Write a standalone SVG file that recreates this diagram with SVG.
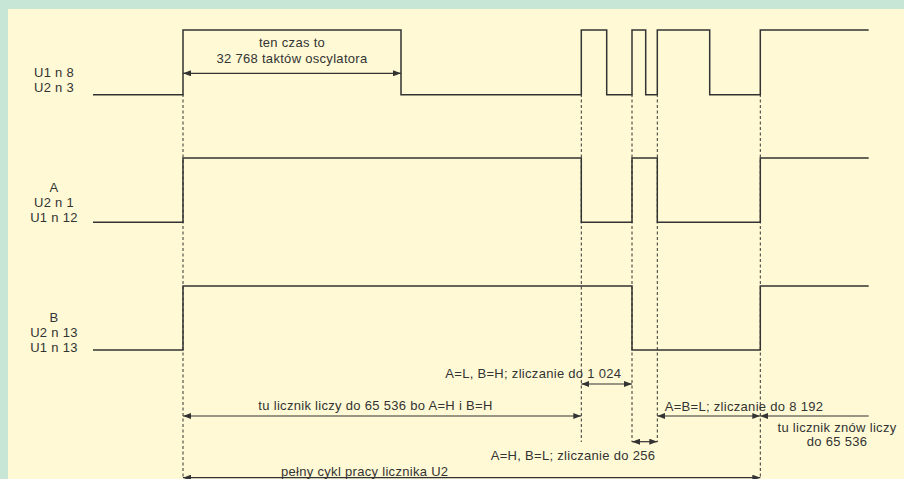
<svg xmlns="http://www.w3.org/2000/svg" width="904" height="479" viewBox="0 0 904 479">
<defs>
<style>
.t{font-family:"Liberation Sans",Arial,sans-serif;font-size:13px;letter-spacing:0.3px;fill:#333;text-anchor:middle}
.w{fill:none;stroke:#333;stroke-width:1.5}
.d{fill:none;stroke:#333;stroke-width:1;stroke-dasharray:3 2.5}
.a{fill:none;stroke:#333;stroke-width:1.2}
</style>
<marker id="ah" viewBox="0 0 8 6" refX="8" refY="3" markerWidth="8" markerHeight="6" markerUnits="userSpaceOnUse" orient="auto-start-reverse">
<path d="M0,0 L8,3 L0,6 Z" fill="#333"/>
</marker>
</defs>
<rect x="0" y="0" width="904" height="479" fill="#c8e6d5"/>
<rect x="8" y="9" width="896" height="470" fill="#fffad5"/>

<g id="guides">
<line class="d" x1="183" y1="94" x2="183" y2="479"/>
<line class="d" x1="581.3" y1="94" x2="581.3" y2="442"/>
<line class="d" x1="632" y1="94" x2="632" y2="442"/>
<line class="d" x1="657.3" y1="94" x2="657.3" y2="442"/>
<line class="d" x1="760.3" y1="94" x2="760.3" y2="479"/>
</g>

<g id="sig-u1n8">
<path class="w" d="M93,94.7 H183 V30 H401 V94.7 H581.3 V30 H606.7 V94.7 H632 V30 H645.7 V94.7 H657.3 V30 H709.7 V94.7 H760.3 V30 H868.7"/>
<text class="t" x="54" y="76.7">U1 n 8</text>
<text class="t" x="54" y="91.7">U2 n 3</text>
</g>

<g id="sig-a">
<path class="w" d="M93,222.3 H183 V158 H581.3 V222.3 H632 V158 H657.3 V222.3 H760.3 V158 H868.7"/>
<text class="t" x="54" y="191.7">A</text>
<text class="t" x="54" y="206.7">U2 n 1</text>
<text class="t" x="54" y="222">U1 n 12</text>
</g>

<g id="sig-b">
<path class="w" d="M93,350 H183 V286 H632 V350 H760.3 V286 H868.7"/>
<text class="t" x="54" y="321.7">B</text>
<text class="t" x="54" y="336.7">U2 n 13</text>
<text class="t" x="54" y="352">U1 n 13</text>
</g>

<g id="connectors">
<line class="a" x1="183" y1="73.3" x2="401" y2="73.3" marker-start="url(#ah)" marker-end="url(#ah)"/>
<line class="a" x1="581.3" y1="384" x2="632" y2="384" marker-start="url(#ah)" marker-end="url(#ah)"/>
<line class="a" x1="183" y1="416" x2="581.3" y2="416" marker-start="url(#ah)" marker-end="url(#ah)"/>
<line class="a" x1="657.3" y1="416" x2="760.3" y2="416" marker-start="url(#ah)" marker-end="url(#ah)"/>
<line class="a" x1="868.7" y1="416" x2="760.3" y2="416" marker-end="url(#ah)"/>
<line class="a" x1="632" y1="441.7" x2="657.3" y2="441.7" marker-start="url(#ah)" marker-end="url(#ah)"/>
<line class="a" x1="183" y1="477.7" x2="760.3" y2="477.7" marker-start="url(#ah)" marker-end="url(#ah)"/>
</g>

<g id="labels">
<text class="t" x="292" y="47.3">ten czas to</text>
<text class="t" x="292" y="63.3">32 768 taktów oscylatora</text>
<text class="t" x="533.3" y="378.3">A=L, B=H; zliczanie do 1 024</text>
<text class="t" x="375.5" y="410">tu licznik liczy do 65 536 bo A=H i B=H</text>
<text class="t" x="744" y="410.5">A=B=L; zliczanie do 8 192</text>
<text class="t" x="837" y="431.7">tu licznik znów liczy</text>
<text class="t" x="837" y="446">do 65 536</text>
<text class="t" x="573" y="460">A=H, B=L; zliczanie do 256</text>
<text class="t" x="364.7" y="476">pełny cykl pracy licznika U2</text>
</g>
</svg>
